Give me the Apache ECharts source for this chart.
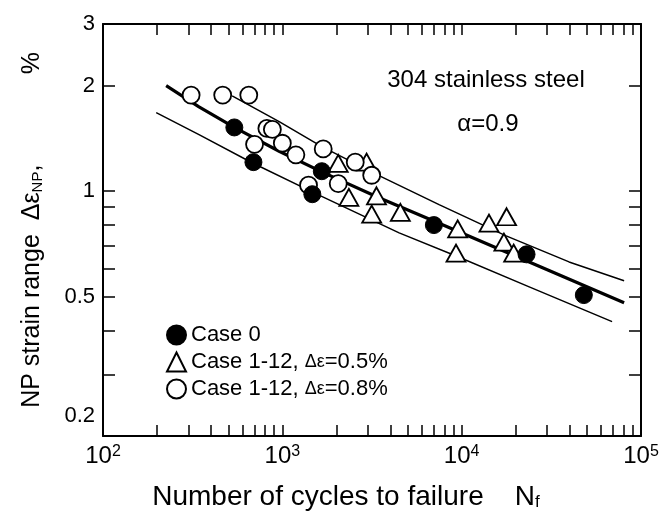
<!DOCTYPE html>
<html>
<head>
<meta charset="utf-8">
<script src="https://cdn.jsdelivr.net/npm/echarts@6/dist/echarts.min.js"></script>
<style>
  html, body { margin: 0; padding: 0; background: #fff; }
  #chart { width: 669px; height: 525px; }
</style>
</head>
<body>
<div id="chart"></div>
<script>
// fatigue data (N, strain range %)
var case0 = [[540, 1.52], [690, 1.21], [1470, 0.98], [1660, 1.14], [7000, 0.80], [23000, 0.66], [48000, 0.505]];
var case05 = [[2050, 1.2], [2950, 1.21], [2350, 0.96], [3350, 0.97], [3150, 0.86], [4550, 0.87],
    [9500, 0.78], [9300, 0.665], [14200, 0.81], [17800, 0.845], [17200, 0.715], [19500, 0.665]];
var case08 = [[310, 1.88], [465, 1.88], [650, 1.88], [700, 1.36], [820, 1.51], [880, 1.50], [1000, 1.37],
    [1190, 1.27], [1400, 1.04], [1690, 1.32], [2050, 1.05], [2550, 1.21], [3150, 1.11]];

// fitted curve and scatter band
var midLine = [[225, 2.0], [343, 1.74], [540, 1.52], [960, 1.30], [1660, 1.135], [3460, 0.957],
    [7480, 0.81], [23800, 0.628], [80500, 0.48]];
var upperLine = [[525, 1.87], [960, 1.58], [1660, 1.34], [3460, 1.107], [7480, 0.915], [17700, 0.745],
    [39700, 0.628], [80500, 0.555]];
var lowerLine = [[198, 1.675], [343, 1.45], [678, 1.205], [1466, 0.995], [4480, 0.76], [9310, 0.653],
    [23800, 0.533], [69000, 0.424]];

// ticks and labels
var xTicks = [100, 200, 300, 400, 500, 600, 700, 800, 900, 1000, 2000, 3000, 4000, 5000, 6000, 7000, 8000, 9000,
    10000, 20000, 30000, 40000, 50000, 60000, 70000, 80000, 90000, 100000];
var xLabels = [100, 1000, 10000, 100000];
var yTicks = [0.2, 0.3, 0.4, 0.5, 0.6, 0.7, 0.8, 0.9, 1, 2, 3];
var yLabels = [0.2, 0.5, 1, 2, 3];

var FONT = 'Liberation Sans';
var chart = echarts.init(document.getElementById('chart'));

function xAxisOf(pos, showLabel) {
    return {
        type: 'log', logBase: 10, min: 100, max: 100000, position: pos,
        axisLine: { lineStyle: { color: '#000', width: 2 } },
        axisTick: { inside: true, length: 11, customValues: xTicks, lineStyle: { color: '#000', width: 1.5 } },
        axisLabel: {
            show: showLabel, customValues: xLabels, margin: 8, color: '#000',
            fontFamily: FONT, fontSize: 24,
            formatter: function (v) { return '10{sup|' + Math.round(Math.log10(v)) + '}'; },
            rich: { sup: { fontSize: 16, verticalAlign: 'top', fontFamily: FONT, color: '#000' } }
        },
        splitLine: { show: false }
    };
}
function yAxisOf(pos, showLabel) {
    return {
        type: 'log', logBase: 10, min: 0.2, max: 3, position: pos,
        axisLine: { lineStyle: { color: '#000', width: 2 } },
        axisTick: { inside: true, length: 12, customValues: yTicks, lineStyle: { color: '#000', width: 1.5 } },
        axisLabel: {
            show: showLabel, customValues: yLabels, margin: 8, color: '#000',
            fontFamily: FONT, fontSize: 22,
            formatter: function (v) {
                if (Math.abs(v - 0.2) < 1e-6) return '{lo|0.2}';
                return String(+v.toPrecision(3));
            },
            rich: { lo: { fontSize: 22, fontFamily: FONT, color: '#000', padding: [0, 0, 40, 0] } }
        },
        splitLine: { show: false }
    };
}

var xa = xAxisOf('bottom', true);
xa.name = 'Number of cycles to failure    N{sub|f}';
xa.nameLocation = 'middle';
xa.nameGap = 47;
xa.nameTextStyle = {
    fontFamily: FONT, fontSize: 28, color: '#000', padding: [0, 52, 0, 0],
    rich: { sub: { fontSize: 17, fontFamily: FONT, verticalAlign: 'bottom', color: '#000' } }
};
var ya = yAxisOf('left', true);
ya.name = 'NP strain range  \u0394\u03b5{sub|NP},             %';
ya.nameLocation = 'middle';
ya.nameRotate = 90;
ya.nameGap = 58;
ya.nameTextStyle = {
    fontFamily: FONT, fontSize: 25, color: '#000',
    rich: { sub: { fontSize: 15, fontFamily: FONT, verticalAlign: 'bottom', color: '#000' } }
};

var option = {
    animation: false,
    backgroundColor: '#fff',
    grid: { left: 103, right: 28, top: 24, bottom: 89 },
    xAxis: [xa, xAxisOf('top', false)],
    yAxis: [ya, yAxisOf('right', false)],
    legend: {
        orient: 'vertical', left: 161, top: 319, itemGap: 5,
        itemWidth: 19, itemHeight: 19,
        data: ['Case 0', 'Case 1-12, \u0394\u03b5=0.5%', 'Case 1-12, \u0394\u03b5=0.8%'],
        textStyle: {
            fontFamily: FONT, fontSize: 22, color: '#000',
            rich: {
                c: { fontFamily: FONT, fontSize: 22, color: '#000' },
                d: { fontFamily: FONT, fontSize: 18, color: '#000' }
            }
        },
        formatter: function (name) {
            var i = name.indexOf('\u0394\u03b5');
            if (i < 0) return name;
            return '{c|' + name.slice(0, i) + '}{d|\u0394\u03b5}{c|' + name.slice(i + 2) + '}';
        }
    },
    graphic: [
        { type: 'text', x: 486, y: 80, style: { text: '304 stainless steel', font: '24px ' + FONT, fill: '#000', textAlign: 'center', textVerticalAlign: 'middle' } },
        { type: 'text', x: 488, y: 124, style: { text: '\u03b1=0.9', font: '24px ' + FONT, fill: '#000', textAlign: 'center', textVerticalAlign: 'middle' } }
    ],
    series: [
        { type: 'line', data: midLine, smooth: false, symbol: 'none', lineStyle: { color: '#000', width: 3.2 }, z: 2 },
        { type: 'line', data: upperLine, smooth: false, symbol: 'none', lineStyle: { color: '#000', width: 1.5 }, z: 2 },
        { type: 'line', data: lowerLine, smooth: false, symbol: 'none', lineStyle: { color: '#000', width: 1.5 }, z: 2 },
        {
            name: 'Case 0', type: 'scatter', data: case0, symbol: 'circle', symbolSize: 17,
            itemStyle: { color: '#000', borderColor: '#000', borderWidth: 1, opacity: 1 }, z: 4
        },
        {
            name: 'Case 1-12, \u0394\u03b5=0.5%', type: 'scatter', data: case05, symbol: 'triangle', symbolSize: [19, 17],
            itemStyle: { color: '#fff', borderColor: '#000', borderWidth: 1.8, opacity: 1 }, z: 3
        },
        {
            name: 'Case 1-12, \u0394\u03b5=0.8%', type: 'scatter', data: case08, symbol: 'circle', symbolSize: 17,
            itemStyle: { color: '#fff', borderColor: '#000', borderWidth: 1.8, opacity: 1 }, z: 3
        }
    ]
};
chart.setOption(option);
</script>
</body>
</html>
